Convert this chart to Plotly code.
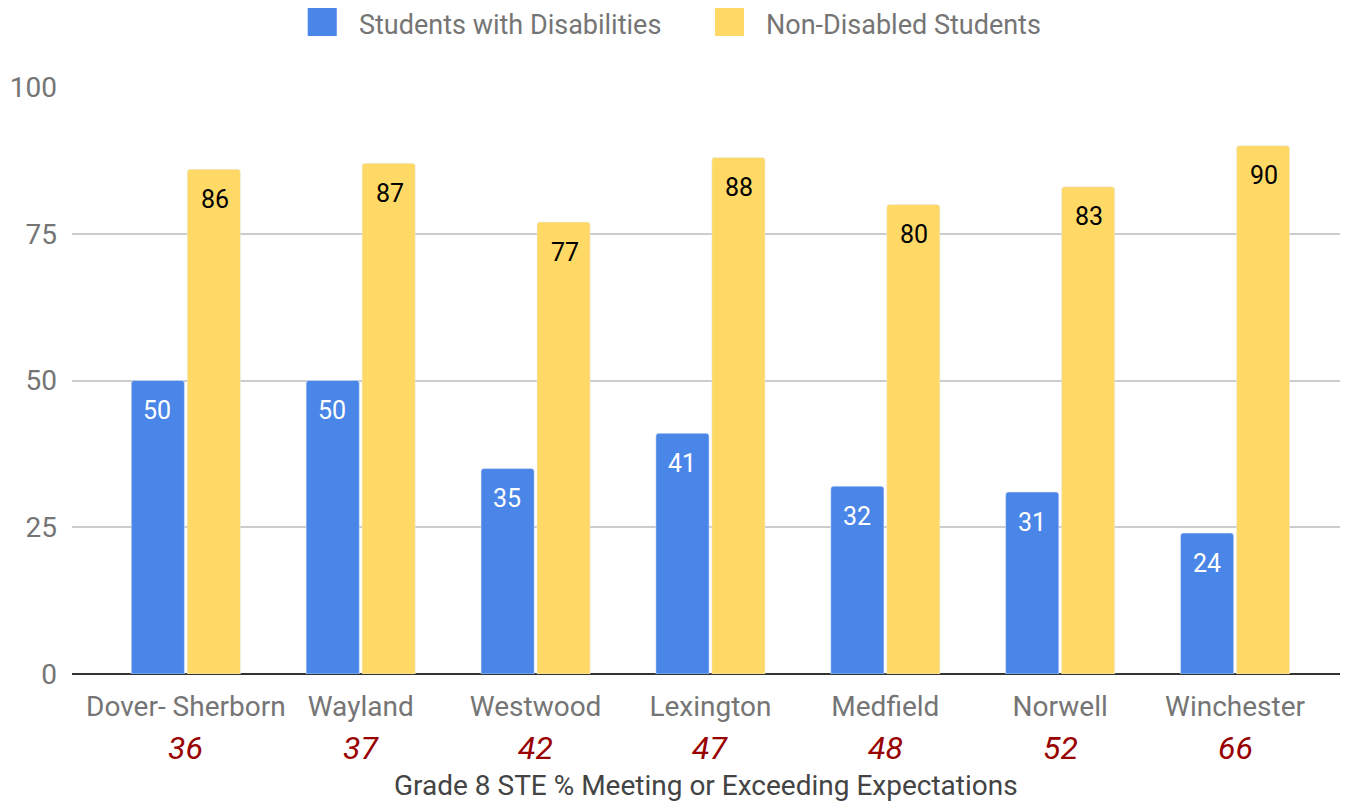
import plotly.graph_objects as go

districts = ["Dover- Sherborn", "Wayland", "Westwood", "Lexington", "Medfield", "Norwell", "Winchester"]
ranks = [36, 37, 42, 47, 48, 52, 66]
swd = [50, 50, 35, 41, 32, 31, 24]
non_disabled = [86, 87, 77, 88, 80, 83, 90]
y_ticks = [0, 25, 50, 75, 100]

series = [
    ("Students with Disabilities", swd, "#4a86e8", "#ffffff", -28.5),
    ("Non-Disabled Students", non_disabled, "#ffd966", "#000000", 29),
]

fig = go.Figure()
for name, vals, col, tcol, xs in series:
    fig.add_trace(go.Bar(
        x=districts, y=vals, name=name,
        marker=dict(color=col, cornerradius=3),
        showlegend=False, hoverinfo="x+y+name",
    ))
    for d, v in zip(districts, vals):
        fig.add_annotation(
            x=d, y=v, xref="x", yref="y", xshift=xs, yshift=-30,
            yanchor="middle", text=str(v), showarrow=False,
            font=dict(color=tcol, size=25, family="Roboto"),
        )

for d, r in zip(districts, ranks):
    fig.add_annotation(
        x=d, y=0, xref="x", yref="paper", yshift=-74, yanchor="middle",
        text=f"<i>{r}</i>", showarrow=False,
        font=dict(color="#990000", size=32, family="Roboto"),
    )

fig.add_annotation(
    x=0.5, xref="paper", y=0, yref="paper", yshift=-111, yanchor="middle",
    text="Grade 8 STE % Meeting or Exceeding Expectations", showarrow=False,
    font=dict(color="#444444", size=28, family="Roboto"),
)

# legend (drawn manually to match the large square swatches)
legend_items = [
    ("Students with Disabilities", "#4a86e8", 0.1859, 0.2088, 0.2248),
    ("Non-Disabled Students", "#ffd966", 0.5071, 0.5300, 0.5457),
]
for name, col, x0, x1, xt in legend_items:
    fig.add_shape(type="rect", xref="paper", yref="paper",
                  x0=x0, x1=x1, y0=1.0869, y1=1.1363,
                  fillcolor=col, line=dict(width=0))
    fig.add_annotation(x=xt, y=1.1056, xref="paper", yref="paper",
                       xanchor="left", yanchor="middle", text=name, showarrow=False,
                       font=dict(color="#757575", size=27, family="Roboto"))

fig.update_layout(
    width=1346, height=794,
    margin=dict(l=64, r=14, t=79, b=128, autoexpand=False),
    paper_bgcolor="white", plot_bgcolor="white",
    font=dict(family="Roboto", color="#666666"),
    barmode="group", bargap=0.36, bargroupgap=0.05,
    showlegend=False,
    xaxis=dict(range=[-0.651, 6.6], tickfont=dict(size=28, color="#757575"),
               showgrid=False, ticks="", ticklabelstandoff=13),
    yaxis=dict(range=[0, 100], tickvals=y_ticks, tickfont=dict(size=28, color="#757575"),
               gridcolor="#cccccc", gridwidth=1.5, zeroline=True, zerolinecolor="#333333",
               zerolinewidth=2, ticks="", ticklabelstandoff=14, fixedrange=True),
)

fig.write_html("out.html")
